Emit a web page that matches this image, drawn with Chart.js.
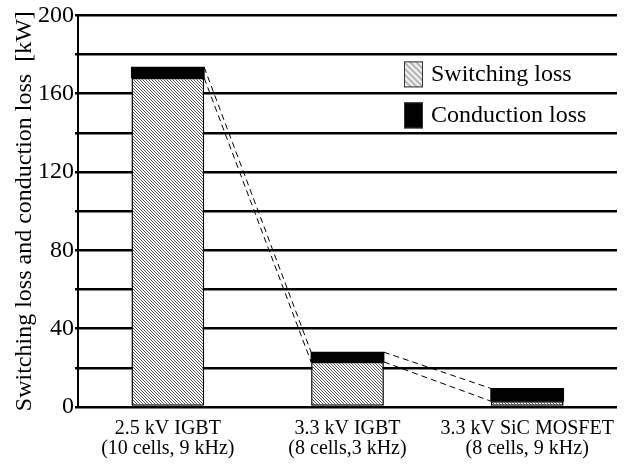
<!DOCTYPE html>
<html lang="en">
<head>
  <meta charset="UTF-8">
  <title>Switching and conduction loss</title>
  <script src="https://cdn.jsdelivr.net/npm/chart.js"></script>
  <style>
    body { margin: 0; background: #fff; }
    #wrap { width: 624px; height: 466px; }
  </style>
</head>
<body>
  <div id="wrap"><canvas id="lossChart" width="624" height="466"></canvas></div>

  <script>
    const categories = [
      ['2.5 kV IGBT', '(10 cells, 9 kHz)'],
      ['3.3 kV IGBT', '(8 cells,3 kHz)'],
      ['3.3 kV SiC MOSFET', '(8 cells, 9 kHz)']
    ];
    const switchingLoss = [168, 23, 3];
    const conductionLoss = [5.5, 5, 6.5];
    const yTickLabels = [0, 40, 80, 120, 160, 200];

    const serif = "'Liberation Serif', 'Times New Roman', serif";

    // diagonal hatch for the switching loss bars
    function hatch(bg, fg, size, lw) {
      const c = document.createElement('canvas');
      c.width = size; c.height = size;
      const g = c.getContext('2d');
      g.fillStyle = bg;
      g.fillRect(0, 0, size, size);
      g.strokeStyle = fg;
      g.lineWidth = lw;
      g.beginPath();
      g.moveTo(-1, -1); g.lineTo(size + 1, size + 1);
      g.moveTo(-1, size - 1); g.lineTo(1, size + 1);
      g.moveTo(size - 1, -1); g.lineTo(size + 1, 1);
      g.stroke();
      return g.createPattern(c, 'repeat');
    }
    const barHatch = hatch('#ffffff', '#555555', 3, 1);
    const legendHatch = hatch('#f2f2f2', '#b5b5b5', 6, 2);

    // dashed lines linking the tops of neighbouring bars
    const connectors = {
      id: 'connectors',
      afterDatasetsDraw(chart) {
        const ctx = chart.ctx;
        const lower = chart.getDatasetMeta(0).data;
        const upper = chart.getDatasetMeta(1).data;
        ctx.save();
        ctx.strokeStyle = '#000';
        ctx.lineWidth = 1;
        ctx.setLineDash([6, 4]);
        for (let i = 0; i < lower.length - 1; i++) {
          [lower, upper].forEach(set => {
            const a = set[i], b = set[i + 1];
            ctx.beginPath();
            ctx.moveTo(a.x + a.width / 2, a.y);
            ctx.lineTo(b.x - b.width / 2, b.y);
            ctx.stroke();
          });
        }
        ctx.restore();
      }
    };

    // legend drawn inside the plot area, top right
    const innerLegend = {
      id: 'innerLegend',
      afterDraw(chart) {
        const ctx = chart.ctx;
        const area = chart.chartArea;
        const x = area.right - 213;
        const items = [
          { label: 'Switching loss', fill: legendHatch, y: area.top + 46 },
          { label: 'Conduction loss', fill: '#000', y: area.top + 87 }
        ];
        ctx.save();
        items.forEach(it => {
          ctx.fillStyle = it.fill;
          ctx.fillRect(x, it.y, 19, 26);
          ctx.strokeStyle = '#333';
          ctx.lineWidth = 1;
          ctx.strokeRect(x + 0.5, it.y + 0.5, 18, 25);
          ctx.fillStyle = '#000';
          ctx.font = '24px ' + serif;
          ctx.textBaseline = 'middle';
          ctx.fillText(it.label, x + 27, it.y + 13);
        });
        ctx.restore();
      }
    };

    new Chart(document.getElementById('lossChart'), {
      type: 'bar',
      data: {
        labels: categories,
        datasets: [
          {
            label: 'Switching loss',
            data: switchingLoss,
            backgroundColor: barHatch,
            borderColor: '#000',
            borderWidth: 1.5,
            borderSkipped: false,
            categoryPercentage: 1,
            barPercentage: 0.405
          },
          {
            label: 'Conduction loss',
            data: conductionLoss,
            backgroundColor: '#000',
            borderColor: '#000',
            borderWidth: 0,
            inflateAmount: 0.5,
            categoryPercentage: 1,
            barPercentage: 0.405
          }
        ]
      },
      options: {
        responsive: false,
        animation: false,
        layout: { padding: { top: 14, right: 7, left: 0, bottom: 7 } },
        plugins: {
          legend: { display: false },
          tooltip: { enabled: false }
        },
        scales: {
          x: {
            stacked: true,
            afterFit(scale) { scale.height = 52; scale.paddingRight = 0; },
            grid: { display: false, drawTicks: false },
            border: { display: false },
            ticks: {
              color: '#000',
              font: { family: serif, size: 20, lineHeight: 1.0 },
              padding: 12,
              maxRotation: 0
            }
          },
          y: {
            stacked: true,
            min: 0,
            max: 200,
            afterFit(scale) { scale.width = 78; },
            title: {
              display: true,
              text: 'Switching loss and conduction loss  [kW]',
              color: '#000',
              font: { family: serif, size: 24, lineHeight: 1.0 },
              padding: { top: 13, bottom: 0 }
            },
            ticks: {
              stepSize: 20,
              color: '#000',
              font: { family: serif, size: 24 },
              padding: 1,
              callback: v => yTickLabels.includes(v) ? v : ''
            },
            grid: {
              color: '#000',
              lineWidth: 2.5,
              tickLength: 3,
              drawTicks: true
            },
            border: { color: '#000', width: 2 }
          }
        }
      },
      plugins: [connectors, innerLegend]
    });
  </script>
</body>
</html>
